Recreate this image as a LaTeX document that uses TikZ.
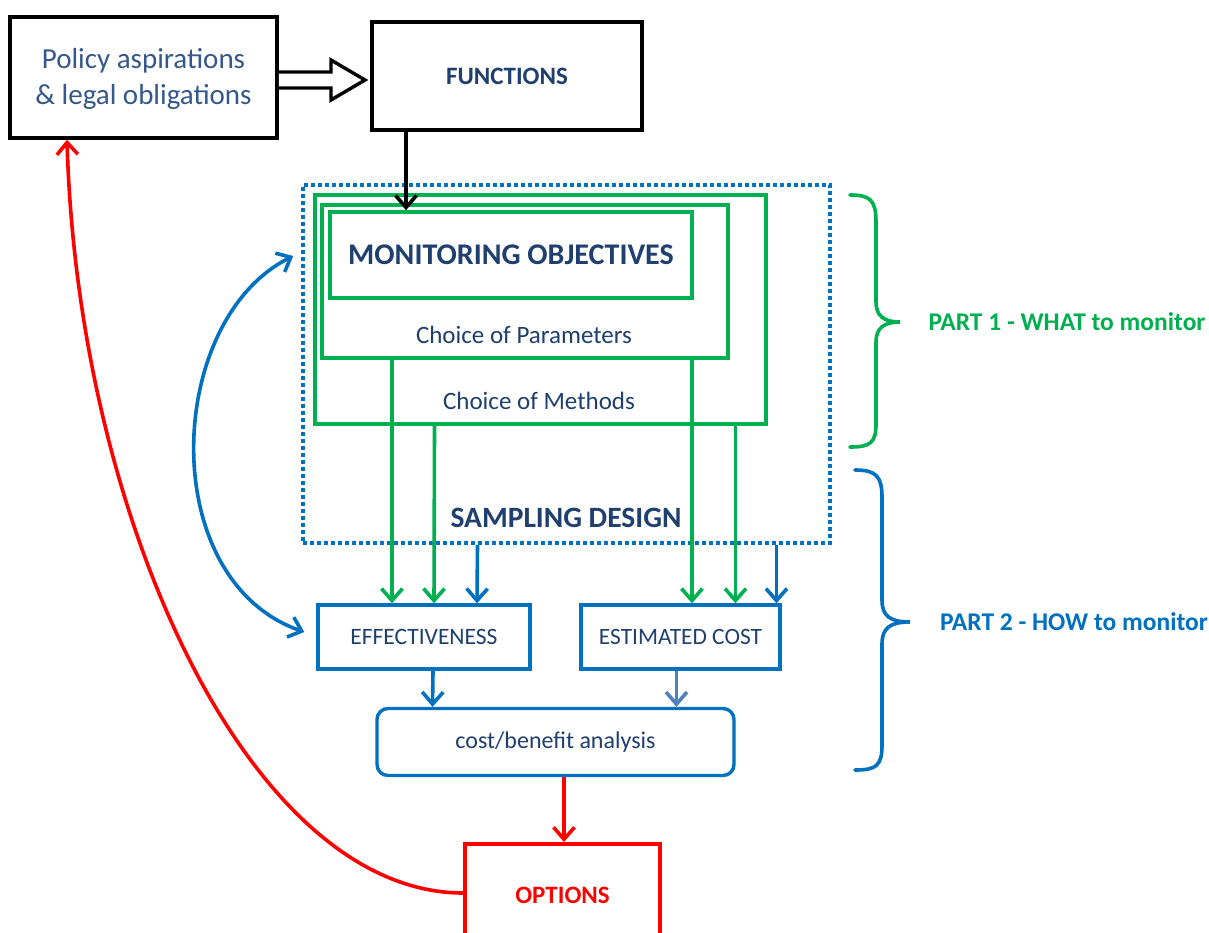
\documentclass[tikz,border=0pt]{standalone}
\usepackage{fontspec}
\setmainfont{Carlito}
\usetikzlibrary{arrows.meta,calc}
\definecolor{gr}{HTML}{00B050}
\definecolor{bl}{HTML}{0070C0}
\definecolor{lbl}{HTML}{4F81BD}
\definecolor{rd}{HTML}{FF0000}
\definecolor{txt}{HTML}{1F3F6E}
\definecolor{ptxt}{HTML}{34578C}
\newcommand{\fs}[1]{\fontsize{#1}{#1}\selectfont}
\tikzset{
  mytip/.tip={Straight Barb[length=12pt,width=21pt,line width=3.6pt]},
  box/.style={draw, line width=3.6pt, inner sep=0pt, align=center, text=txt},
  gbox/.style={box, draw=gr},
  bbox/.style={box, draw=bl, line width=3.4pt},
  arr/.style={line width=3.6pt, -{mytip}},
}
\begin{document}
\begin{tikzpicture}[x=1pt,y=-1pt]
\clip (0,0) rectangle (1209,933);
\useasboundingbox (0,0) rectangle (1209,933);
\fill[white] (0,0) rectangle (1209,933);

% top boxes
\node[box, draw=black, minimum width=267pt, minimum height=121pt, text=ptxt, font=\fs{29}] (policy) at (143.5,77.5)
  {\raisebox{-9pt}[0pt][0pt]{\begin{tabular}{@{}c@{}}Policy aspirations\\[7pt]\& legal obligations\end{tabular}}};
\node[box, draw=black, minimum width=270pt, minimum height=108pt, font=\bfseries\fs{25}] (func) at (507,76) {FUNCTIONS};

% hollow arrow
\draw[line width=3.4pt, line join=miter, fill=white]
  (policy.east |- 0,72) -- (331,72) -- (331,60) -- (365,80) -- (331,100) -- (331,88) -- (policy.east |- 0,88);

% sampling design dotted box
\node[draw=bl, line width=3.6pt, dash pattern=on 3.6pt off 3.4pt, minimum width=527pt, minimum height=358pt, inner sep=0pt] (samp) at (566.5,364) {};
\node[text=txt, font=\bfseries\fs{29.5}] (samplab) at (566,518) {SAMPLING DESIGN};

% green nested boxes
\node[gbox, minimum width=451pt, minimum height=229pt] (meth) at (540.5,309.5) {};
\node[gbox, minimum width=406pt, minimum height=153pt] (param) at (525,281.5) {};
\node[gbox, minimum width=362pt, minimum height=86pt, font=\bfseries\fs{30}] (mon) at (511,255) {MONITORING OBJECTIVES};
\node[text=txt, font=\fs{25}] (paramlab) at (524,335) {Choice of Parameters};
\node[text=txt, font=\fs{25}] (methlab) at (539,401) {Choice of Methods};

% lower boxes
\node[bbox, minimum width=212pt, minimum height=64pt, font=\fs{23.5}] (eff) at (424,637) {EFFECTIVENESS};
\node[bbox, minimum width=199pt, minimum height=64pt, font=\fs{23.4}] (cost) at (680.5,637) {ESTIMATED COST};
\node[bbox, rounded corners=11pt, minimum width=357pt, minimum height=67pt, font=\fs{24}] (cb) at (555.5,742) {cost/benefit analysis};
\node[box, draw=rd, text=rd, anchor=north, minimum width=195pt, minimum height=110pt, text depth=8pt, font=\bfseries\fs{25}] (opt) at (562.5,842) {OPTIONS};

% arrows
\draw[arr] ([xshift=-101pt]func.south) -- ([xshift=-105pt]mon.north);
\draw[arr, gr] ([xshift=-133pt]param.south) -- ([xshift=-32pt]eff.north);
\draw[arr, gr] ([xshift=-106pt]meth.south) -- ([xshift=10pt]eff.north);
\draw[arr, bl] ([xshift=-89pt]samp.south) -- ([xshift=53pt]eff.north);
\draw[arr, gr] ([xshift=167pt]param.south) -- ([xshift=11.5pt]cost.north);
\draw[arr, gr] ([xshift=195pt]meth.south) -- ([xshift=55pt]cost.north);
\draw[arr, bl] ([xshift=210pt]samp.south) -- ([xshift=96pt]cost.north);
\draw[arr, bl] ([xshift=9pt]eff.south) -- ([xshift=-123pt]cb.north);
\draw[arr, lbl] ([xshift=-4pt]cost.south) -- ([xshift=121pt]cb.north);
\draw[arr, rd] ([xshift=8.5pt]cb.south) -- ([xshift=1.5pt]opt.north);

% curved feedback arrows
\draw[arr, rd] (opt.west |- 0,893) .. controls (250,893) and (78,520) .. (policy.south -| 67,0);
\draw[line width=3.6pt, bl, {mytip}-{mytip}]
  ([xshift=-8pt]samp.west |- 0,256) .. controls (165,320) and (155,580) .. ([xshift=-12pt]eff.west |- 0,632);

% braces
\draw[gr, line width=3.6pt, line cap=round] (850,195) .. controls (870,195) and (876,200) .. (876,222) -- (876,302)
  .. controls (876,316) and (884,322) .. (900,322) .. controls (884,322) and (876,328) .. (876,342) -- (876,424)
  .. controls (876,443) and (870,447) .. (850,447);
\draw[bl, line width=3.6pt, line cap=round] (855,470) .. controls (876,470) and (882,476) .. (882,498) -- (882,600)
  .. controls (882,616) and (890,622) .. (910,622) .. controls (890,622) and (882,628) .. (882,644) -- (882,745)
  .. controls (882,766) and (876,770) .. (855,770);
\node[text=gr, font=\bfseries\fs{25.5}] (p1) at (1067,322) {PART 1 - WHAT to monitor};
\node[text=bl, font=\bfseries\fs{25.5}] (p2) at (1074,622) {PART 2 - HOW to monitor};
\end{tikzpicture}
\end{document}
